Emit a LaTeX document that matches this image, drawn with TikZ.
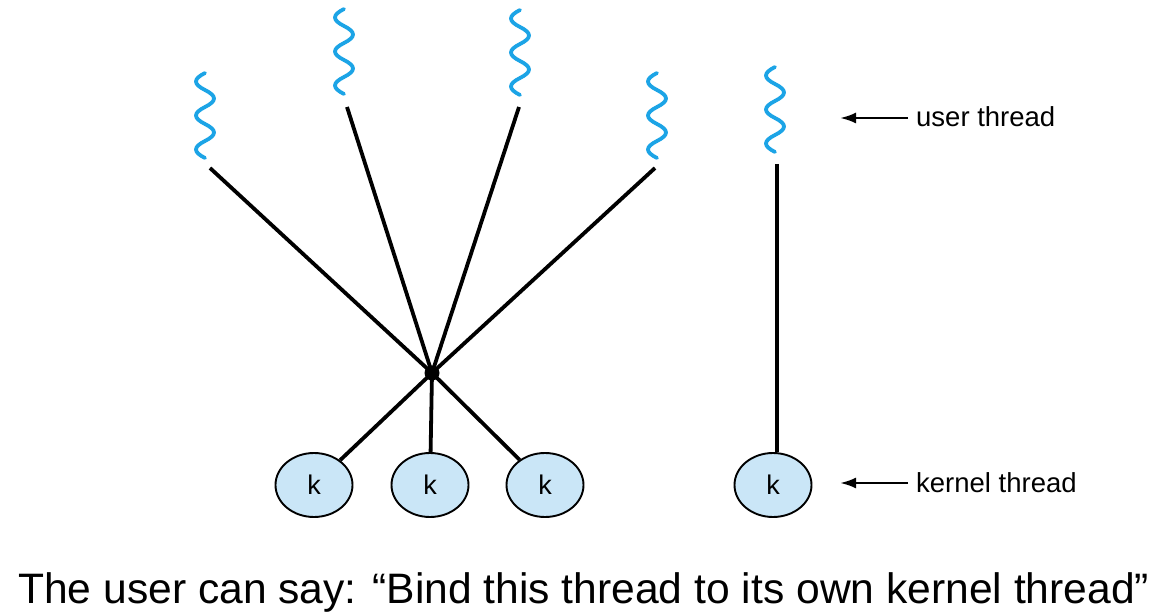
\documentclass[tikz,border=0pt]{standalone}
\usepackage{fontspec}
\setmainfont{Liberation Sans}
\usetikzlibrary{shapes.geometric,arrows.meta}
\definecolor{squigblue}{RGB}{28,164,230}
\definecolor{kblue}{RGB}{202,230,247}
\begin{document}
\begin{tikzpicture}[x=1pt,y=-1pt,
  squig/.style={draw=squigblue, line width=3.8pt, line cap=round},
  conn/.style={line width=3.8pt, draw=black},
  kthread/.style={ellipse, draw=black, line width=1.9pt, fill=kblue, minimum width=77pt, minimum height=64pt, inner sep=0pt, font=\fontsize{27}{27}\selectfont},
  lbl/.style={font=\fontsize{27.5}{30}\selectfont, anchor=base west, inner sep=0pt},
  arr/.style={-{Latex[length=16pt,width=11pt]}, line width=2.6pt},
  hub/.style={circle, fill=black, inner sep=0pt, minimum size=15pt}
]
\useasboundingbox (0,0) rectangle (1171,612);
% user threads (squiggles)
\foreach \cx/\ty in {205/73, 344/9, 520/10, 657/73, 775/67}{
  \draw[squig] (\cx,\ty)
    .. controls ++(-12,6) and ++(-12,-6) .. ++(0,17)
    .. controls ++(12,6) and ++(12,-6) .. ++(0,17)
    .. controls ++(-12,6) and ++(-12,-6) .. ++(0,17)
    .. controls ++(12,6) and ++(12,-6) .. ++(0,17)
    .. controls ++(-12,6) and ++(-12,-6) .. ++(0,17);
}
\coordinate (u1) at (210,168);
\coordinate (u2) at (347,107);
\coordinate (u3) at (519,107);
\coordinate (u4) at (655,168);
\coordinate (u5) at (777,164);
% hub
\node[hub] (dot) at (432,373) {};
% kernel threads
\node[kthread] (k1) at (314,485) {k};
\node[kthread] (k2) at (430,485) {k};
\node[kthread] (k3) at (545,485) {k};
\node[kthread] (k4) at (773,485) {k};
% connectors
\foreach \u in {u1,u2,u3,u4}{ \draw[conn] (\u) -- (dot.center); }
\foreach \k in {k1,k2,k3}{ \draw[conn] (dot.center) -- (\k); }
\draw[conn] (u5) -- (u5 |- k4.north);
% labels
\coordinate (a1) at (908,118);
\coordinate (a1e) at (840,118);
\coordinate (a2) at (908,483);
\coordinate (a2e) at (840,483);
\draw[arr] (a1) -- (a1e);
\draw[arr] (a2) -- (a2e);
\node[lbl] (ut) at (916,127) {user thread};
\node[lbl] (kt) at (916,492) {kernel thread};
% caption
\node[anchor=base west, inner sep=0pt, font=\fontsize{42.6}{46}\selectfont] (cap) at (18,603) {The user can say: “Bind this thread to its own kernel thread”};
\end{tikzpicture}
\end{document}
